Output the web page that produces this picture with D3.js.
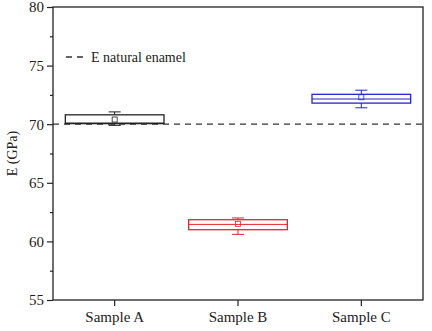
<!DOCTYPE html>
<meta charset="utf-8">
<script src="https://d3js.org/d3.v7.min.js"></script>
<style>
body { margin: 0; background: #fff; }
svg text { font-family: "Liberation Serif", "Times New Roman", serif; fill: #222; }
</style>
<div id="chart"></div>
<script>
// box statistics
var samples = ["Sample A", "Sample B", "Sample C"];
var colors = ["#222222", "#e0262b", "#2626c8"];
var whiskLow = [69.9, 60.6, 71.4];
var q1 = [70.05, 61.0, 71.8];
var median = [70.1, 61.45, 72.15];
var q3 = [70.8, 61.85, 72.55];
var whiskHigh = [71.05, 62.0, 72.9];
var means = [70.4, 61.5, 72.3];
var yTicks = [55, 60, 65, 70, 75, 80];
var enamel = 70;

var W = 432, H = 331;
var margin = { top: 7, right: 9, bottom: 30, left: 53 };
var width = W - margin.left - margin.right,
    height = H - margin.top - margin.bottom - 1;

var svg = d3.select("#chart").append("svg")
    .attr("width", W).attr("height", H);
var g = svg.append("g")
    .attr("transform", "translate(" + margin.left + "," + margin.top + ")");

var x = d3.scaleBand().domain(samples).range([0, width]).paddingInner(0.2).paddingOuter(0.1);
var y = d3.scaleLinear().domain([55, 80]).range([height, 0]);

var data = samples.map(function(s, i) {
  return { name: s, color: colors[i], lo: whiskLow[i], q1: q1[i], med: median[i], q3: q3[i], hi: whiskHigh[i], mean: means[i] };
});

// reference line
g.append("line")
    .attr("x1", 0).attr("x2", width)
    .attr("y1", y(enamel)).attr("y2", y(enamel))
    .attr("stroke", "#333").attr("stroke-width", 1.3)
    .attr("stroke-dasharray", "6,5");

// boxes
var bw = x.bandwidth();
var box = g.selectAll(".box").data(data).enter().append("g").attr("class", "box");
box.append("line")
    .attr("x1", function(d) { return x(d.name) + bw / 2; })
    .attr("x2", function(d) { return x(d.name) + bw / 2; })
    .attr("y1", function(d) { return y(d.lo); })
    .attr("y2", function(d) { return y(d.hi); })
    .attr("stroke", function(d) { return d.color; });
box.selectAll(".cap").data(function(d) { return [[d, d.lo], [d, d.hi]]; })
  .enter().append("line")
    .attr("x1", function(p) { return x(p[0].name) + bw / 2 - 6; })
    .attr("x2", function(p) { return x(p[0].name) + bw / 2 + 6; })
    .attr("y1", function(p) { return y(p[1]); })
    .attr("y2", function(p) { return y(p[1]); })
    .attr("stroke", function(p) { return p[0].color; });
box.append("rect")
    .attr("x", function(d) { return x(d.name); })
    .attr("width", bw)
    .attr("y", function(d) { return y(d.q3); })
    .attr("height", function(d) { return y(d.q1) - y(d.q3); })
    .attr("fill", "#fff")
    .attr("stroke", function(d) { return d.color; })
    .attr("stroke-width", 1.3);
box.append("line")
    .attr("x1", function(d) { return x(d.name); })
    .attr("x2", function(d) { return x(d.name) + bw; })
    .attr("y1", function(d) { return y(d.med); })
    .attr("y2", function(d) { return y(d.med); })
    .attr("stroke", function(d) { return d.color; });
box.append("rect")
    .attr("x", function(d) { return x(d.name) + bw / 2 - 2.5; })
    .attr("y", function(d) { return y(d.mean) - 2.5; })
    .attr("width", 5).attr("height", 5)
    .attr("fill", "none")
    .attr("stroke", function(d) { return d.color; })
    .attr("stroke-width", 0.8);

// frame
g.append("rect")
    .attr("width", width).attr("height", height)
    .attr("fill", "none").attr("stroke", "#222").attr("stroke-width", 1.3);

// axes
g.append("g")
    .call(d3.axisLeft(y).tickValues(yTicks).tickSize(6).tickPadding(3));
g.append("g")
    .call(d3.axisLeft(y).tickValues(d3.range(57.5, 80, 5)).tickSize(3).tickFormat(""));
g.append("g")
    .attr("transform", "translate(0," + height + ")")
    .call(d3.axisBottom(x).tickSize(6).tickPadding(5));
g.selectAll(".domain").remove();
g.selectAll(".tick line").attr("stroke", "#222").attr("stroke-width", 1.2);
g.selectAll(".tick text").attr("font-size", 15).attr("fill", "#222")
    .style("font-family", "'Liberation Serif', serif");

// y title
svg.append("text")
    .attr("transform", "translate(17," + (margin.top + height / 2) + ") rotate(-90)")
    .attr("text-anchor", "middle")
    .attr("font-size", 14)
    .text("E (GPa)");

// legend
g.append("line")
    .attr("x1", 13).attr("x2", 30)
    .attr("y1", 50).attr("y2", 50)
    .attr("stroke", "#333").attr("stroke-width", 1.3)
    .attr("stroke-dasharray", "6,5");
g.append("text")
    .attr("x", 38).attr("y", 55)
    .attr("font-size", 14)
    .text("E natural enamel");
</script>
